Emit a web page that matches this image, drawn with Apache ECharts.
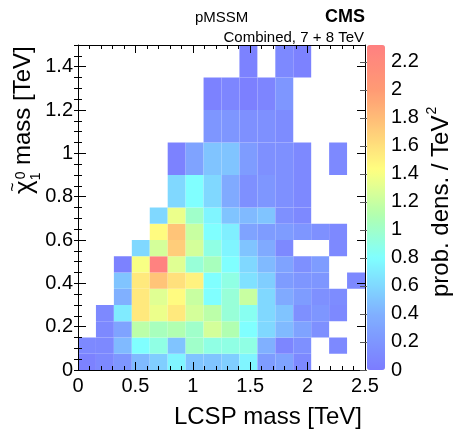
<!DOCTYPE html>
<html>
<head>
<meta charset="utf-8">
<script src="https://cdn.jsdelivr.net/npm/echarts@6/dist/echarts.min.js"></script>
<style>html,body{margin:0;padding:0;background:#fff}#c{width:457px;height:429px}</style>
</head>
<body>
<div id="c"></div>
<script>
// ---- bin edges (TeV) ----
const xEdges = [0, 0.15625, 0.3125, 0.46875, 0.625, 0.78125, 0.9375, 1.09375, 1.25, 1.40625, 1.5625, 1.71875, 1.875, 2.03125, 2.1875, 2.34375, 2.5];
const yEdges = [0, 0.075, 0.15, 0.225, 0.3, 0.375, 0.45, 0.525, 0.6, 0.675, 0.75, 0.9, 1.05, 1.2, 1.35, 1.5];

// ---- tick labels ----
const xTickLabels = [0, 0.5, 1, 1.5, 2, 2.5];
const yTickLabels = [0, 0.2, 0.4, 0.6, 0.8, 1, 1.2, 1.4];
const zTickLabels = [0, 0.2, 0.4, 0.6, 0.8, 1, 1.2, 1.4, 1.6, 1.8, 2, 2.2];

// ---- probability density per y-bin row (bottom to top), 16 x-bins each ----
const row00 = [0.05, 0.1, 0.2, 0.45, 0.55, 0.75, 0.5, 0.5, 0.55, 0.75, 0.25, 0.3, 0.1, null, null, null];
const row01 = [0.1, 0.1, 0.45, 0.8, 0.9, 0.5, 1.0, 0.9, 0.9, 0.9, 0.4, 0.08, 0.15, null, 0.1, null];
const row02 = [null, 0.1, 0.3, 1.15, 1.05, 1.1, 1.0, 1.25, 1.1, 0.8, 0.6, 0.45, 0.3, 0.15, null, null];
const row03 = [null, 0.1, 0.7, 1.55, 1.35, 1.55, 1.25, 1.15, 0.95, 0.85, 0.6, 0.5, 0.15, 0.2, 0.1, null];
const row04 = [null, null, 0.4, 1.55, 1.3, 1.45, 1.2, 0.8, 0.95, 1.2, 0.6, 0.35, 0.25, 0.15, 0.12, null];
const row05 = [null, null, 0.5, 1.55, 1.75, 1.6, 1.5, 0.8, 0.9, 0.65, 0.55, 0.25, 0.2, 0.2, null, 0.1];
const row06 = [null, null, 0.05, 1.4, 2.3, 1.3, 0.95, 1.05, 0.8, 0.6, 0.45, 0.3, 0.15, 0.25, null, null];
const row07 = [null, null, null, 0.6, 1.25, 1.7, 1.25, 0.9, 0.75, 0.5, 0.35, 0.1, null, null, 0.1, null];
const row08 = [null, null, null, null, 1.45, 1.75, 1.2, 0.8, 0.72, 0.3, 0.25, 0.25, 0.2, 0.15, 0.1, null];
const row09 = [null, null, null, null, 0.6, 1.35, 1.0, 0.75, 0.5, 0.45, 0.5, 0.15, 0.1, null, null, null];
const row10 = [null, null, null, null, null, 0.6, 0.8, 0.6, 0.35, 0.15, 0.2, 0.15, 0.1, null, null, null];
const row11 = [null, null, null, null, null, 0.05, 0.3, 0.5, 0.5, 0.25, 0.15, 0.15, 0.1, null, 0.1, null];
const row12 = [null, null, null, null, null, null, null, 0.2, 0.2, 0.15, 0.15, 0.12, null, null, null, null];
const row13 = [null, null, null, null, null, null, null, 0.05, 0.08, 0.03, 0.07, 0.2, null, null, null, null];
const row14 = [null, null, null, null, null, null, null, null, null, 0.05, null, 0.1, 0.05, null, null, null];
const density = [row00, row01, row02, row03, row04, row05, row06, row07, row08, row09, row10, row11, row12, row13, row14];

const zMax = 2.32;

// ---- palette (pastel rainbow) ----
const paletteStops = [
  [0, [124, 124, 255]],
  [0.4, [128, 176, 255]],
  [0.8, [128, 255, 255]],
  [1.1, [176, 255, 176]],
  [1.43, [255, 255, 128]],
  [1.75, [255, 196, 120]],
  [2.0, [255, 154, 116]],
  [2.32, [255, 128, 128]]
];
function colorAt(v) {
  for (let i = 0; i < paletteStops.length - 1; i++) {
    const a = paletteStops[i], b = paletteStops[i + 1];
    if (v <= b[0]) {
      const t = (v - a[0]) / (b[0] - a[0]);
      const c = a[1].map((ch, k) => Math.round(ch + (b[1][k] - ch) * t));
      return 'rgb(' + c.join(',') + ')';
    }
  }
  const l = paletteStops[paletteStops.length - 1][1];
  return 'rgb(' + l.join(',') + ')';
}
const palette = [];
for (let i = 0; i <= 58; i++) palette.push(colorAt(zMax * i / 58));

// ---- cells ----
const cells = [];
density.forEach((row, r) => row.forEach((v, c) => {
  if (v !== null) cells.push([xEdges[c], xEdges[c + 1], yEdges[r], yEdges[r + 1], v]);
}));

const FONT = '"Liberation Sans", Arial, Helvetica, sans-serif';
const mctx = document.createElement('canvas').getContext('2d');
function textW(t, size, weight) {
  mctx.font = (weight || 'normal') + ' ' + size + 'px ' + FONT;
  return mctx.measureText(t).width;
}

const chart = echarts.init(document.getElementById('c'), null, {renderer: 'canvas', width: 457, height: 429});

const black = {color: '#000', width: 1};
function xAx(pos, labels) {
  return {
    gridIndex: 0, type: 'value', min: 0, max: 2.5, interval: 0.5, position: pos, z: 5,
    axisLine: {show: true, onZero: false, lineStyle: black},
    axisTick: {show: true, inside: true, length: 8, lineStyle: black},
    minorTick: {show: true, splitNumber: 5, length: 4, lineStyle: black},
    axisLabel: {show: labels, margin: 6, fontSize: 20, color: '#000', fontFamily: FONT,
      customValues: xTickLabels},
    splitLine: {show: false}, minorSplitLine: {show: false}
  };
}
function yMajor(pos, labels) {
  return {
    gridIndex: 0, type: 'value', min: 0, max: 1.5, interval: 0.2, position: pos, z: 5,
    axisLine: {show: true, onZero: false, lineStyle: black},
    axisTick: {show: true, inside: true, length: 8, lineStyle: black},
    axisLabel: {show: labels, margin: 5, fontSize: 20, color: '#000', fontFamily: FONT,
      customValues: yTickLabels},
    splitLine: {show: false}
  };
}
function yMinor(pos) {
  return {
    gridIndex: 0, type: 'value', min: 0, max: 1.5, interval: 0.05, position: pos, z: 5,
    axisLine: {show: false},
    axisTick: {show: true, inside: true, length: 4, lineStyle: black},
    axisLabel: {show: false},
    splitLine: {show: false}
  };
}

// y-axis title pieces (chi-tilde with sub/superscript, then the rest)
const chiSize = 26, idxSize = 14, tSize = 24;
const chiW = textW('χ', chiSize);
const tildeW = textW('~', 16);
const yTitleRest = 'mass [TeV]';
const zTitle = 'prob. dens. / TeV';
const zTitleW = textW(zTitle, tSize);

const option = {
  animation: false,
  backgroundColor: '#fff',
  grid: [
    {left: 78, top: 45, width: 287, height: 325},
    {left: 367, top: 45, width: 18, height: 325}
  ],
  xAxis: [
    xAx('bottom', true),
    xAx('top', false),
    {gridIndex: 1, type: 'value', show: false, min: 0, max: 1}
  ],
  yAxis: [
    yMajor('left', true),
    yMinor('left'),
    yMajor('right', false),
    yMinor('right'),
    {
      gridIndex: 1, type: 'value', min: 0, max: zMax, interval: 0.2, position: 'right', z: 5,
      axisLine: {show: false},
      axisTick: {show: true, inside: true, length: 7, customValues: zTickLabels, lineStyle: {color: '#555', width: 1}},
      axisLabel: {show: true, margin: 6, fontSize: 20, color: '#000', fontFamily: FONT, customValues: zTickLabels},
      splitLine: {show: false}
    }
  ],
  visualMap: {
    type: 'continuous', min: 0, max: zMax, dimension: 4, seriesIndex: 0,
    calculable: false, hoverLink: false, orient: 'vertical',
    left: 367, top: 45, itemWidth: 18, itemHeight: 325, padding: 0,
    inRange: {color: palette}
  },
  series: [{
    type: 'custom', xAxisIndex: 0, yAxisIndex: 0,
    data: cells,
    encode: {x: [0, 1], y: [2, 3]},
    renderItem: function (params, api) {
      const p0 = api.coord([api.value(0), api.value(3)]);
      const p1 = api.coord([api.value(1), api.value(2)]);
      return {
        type: 'rect',
        shape: {x: p0[0], y: p0[1], width: p1[0] - p0[0], height: p1[1] - p0[1]},
        style: {fill: api.visual('color')}
      };
    }
  }],
  graphic: [
    {type: 'text', x: 195, y: 18, style: {text: 'pMSSM', fontSize: 15, fontFamily: FONT, fill: '#000', align: 'left', verticalAlign: 'middle'}},
    {type: 'text', x: 365, y: 17, style: {text: 'CMS', fontSize: 18, fontWeight: 'bold', fontFamily: FONT, fill: '#000', align: 'right', verticalAlign: 'middle'}},
    {type: 'text', x: 364, y: 38, style: {text: 'Combined, 7 + 8 TeV', fontSize: 15, fontFamily: FONT, fill: '#000', align: 'right', verticalAlign: 'middle'}},
    {type: 'text', x: 362, y: 417, style: {text: 'LCSP mass [TeV]', fontSize: tSize, fontFamily: FONT, fill: '#000', align: 'right', verticalAlign: 'middle'}},
    {
      type: 'group', x: 23, y: 195, rotation: Math.PI / 2,
      children: [
        {type: 'text', x: 1, y: 2, style: {text: 'χ', fontSize: chiSize, fontFamily: FONT, fill: '#000', align: 'left', verticalAlign: 'middle'}},
        {type: 'text', x: 1 + (chiW - tildeW) / 2, y: -9, style: {text: '~', fontSize: 16, fontFamily: FONT, fill: '#000', align: 'left', verticalAlign: 'middle'}},
        {type: 'text', x: chiW + 2, y: -2, style: {text: '0', fontSize: idxSize, fontFamily: FONT, fill: '#000', align: 'left', verticalAlign: 'middle'}},
        {type: 'text', x: chiW + 1, y: 13, style: {text: '1', fontSize: idxSize, fontFamily: FONT, fill: '#000', align: 'left', verticalAlign: 'middle'}},
        {type: 'text', x: 30, y: 0, style: {text: yTitleRest, fontSize: tSize, fontFamily: FONT, fill: '#000', align: 'left', verticalAlign: 'middle'}}
      ]
    },
    {
      type: 'group', x: 441, y: 297, rotation: Math.PI / 2,
      children: [
        {type: 'text', x: 0, y: 0, style: {text: zTitle, fontSize: tSize, fontFamily: FONT, fill: '#000', align: 'left', verticalAlign: 'middle'}},
        {type: 'text', x: zTitleW + 1, y: -9, style: {text: '2', fontSize: idxSize, fontFamily: FONT, fill: '#000', align: 'left', verticalAlign: 'middle'}}
      ]
    }
  ]
};
chart.setOption(option);
</script>
</body>
</html>
